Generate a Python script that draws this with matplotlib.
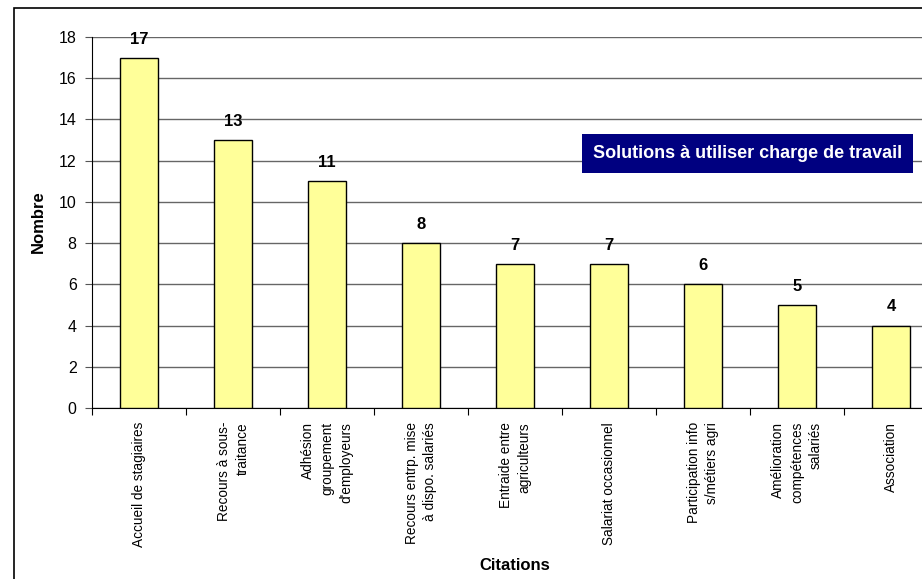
import matplotlib.pyplot as plt
from matplotlib.patches import Rectangle
import numpy as np

plt.rcParams['font.family'] = ['Liberation Sans', 'DejaVu Sans']

categories = ["Accueil de stagiaires",
              "Recours à sous-\ntraitance",
              "Adhésion\ngroupement\nd'employeurs",
              "Recours entrp. mise\nà dispo. salariés",
              "Entraide entre\nagriculteurs",
              "Salariat occasionnel",
              "Participation info\ns/métiers agri",
              "Amélioration\ncompétences\nsalariés",
              "Association"]
counts = [17, 13, 11, 8, 7, 7, 6, 5, 4]
yticks = [0, 2, 4, 6, 8, 10, 12, 14, 16, 18]

W, H = 922, 579
fig = plt.figure(figsize=(W / 100, H / 100), dpi=100)

# chart frame, runs off the right and bottom edges
fig.patches.append(Rectangle((14 / W, -0.05), 1.1, 1 - 8 / H + 0.05,
                             transform=fig.transFigure, fill=False,
                             edgecolor='black', linewidth=1.2))

# plot area deliberately wider than the figure
ax = fig.add_axes([92 / W, 1 - 408 / H, 846 / W, 371 / H])
x = np.arange(len(counts))
ax.bar(x, counts, width=0.4, color='#FFFF99', edgecolor='black',
       linewidth=1.0, zorder=3)

for xi, v in zip(x, counts):
    ax.annotate(str(v), (xi, v), xytext=(0, 8), textcoords='offset points',
                ha='center', va='bottom', fontsize=12, fontweight='bold')

ax.set_xlim(-0.5, len(counts) - 0.5)
ax.set_ylim(0, 18)
ax.set_yticks(yticks)
ax.tick_params(axis='y', labelsize=11.5, length=5, width=0.8,
               direction='out', pad=6, color='#555555')
ax.yaxis.grid(True, color='#666666', linewidth=1.0, zorder=0)

ax.set_xticks(x)
ax.set_xticklabels(categories, rotation=90, ha='center', va='top',
                   multialignment='right', fontsize=9.8, linespacing=1.45)
ax.tick_params(axis='x', which='major', length=0, pad=10)
ax.set_xticks(np.arange(-0.5, len(counts)), minor=True)
ax.tick_params(axis='x', which='minor', length=5, width=0.8, direction='out')

for s in ['top', 'right']:
    ax.spines[s].set_visible(False)
ax.spines['left'].set_linewidth(0.8)
ax.spines['bottom'].set_linewidth(0.8)

fig.text(38 / W, 1 - 222 / H, 'Nombre', ha='center', va='center',
         rotation=90, fontsize=12, fontweight='bold')
fig.text(515 / W, 1 - 565 / H, 'Citations', ha='center', va='center',
         fontsize=12, fontweight='bold')

# title box
fig.patches.append(Rectangle((582 / W, 1 - 173 / H), 331 / W, 39 / H,
                             transform=fig.transFigure, facecolor='#000080',
                             edgecolor='none', zorder=5))
fig.text(747.5 / W, 1 - 154 / H, 'Solutions à utiliser charge de travail',
         ha='center', va='center', color='white', fontsize=13,
         fontweight='bold', zorder=6)

fig.savefig('out.png', dpi=100)
